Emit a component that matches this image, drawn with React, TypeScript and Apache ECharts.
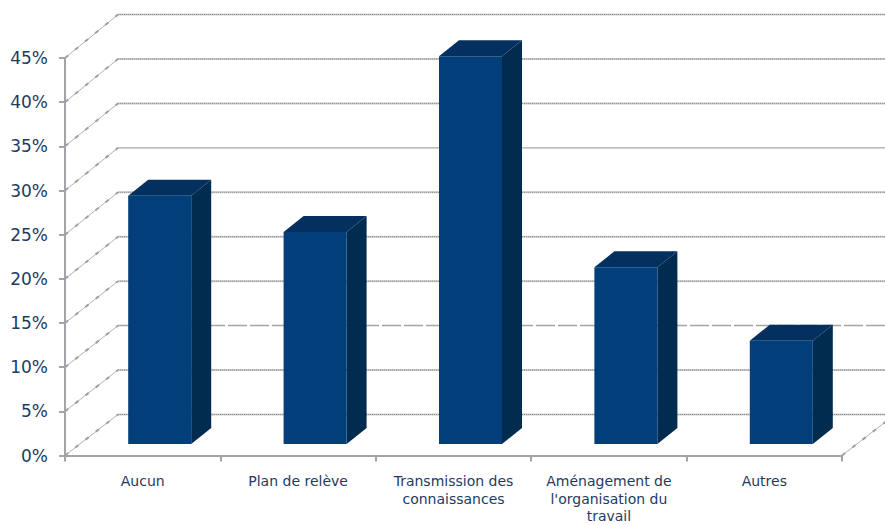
import React, { useEffect, useRef } from "react";
import * as echarts from "echarts";

const categories = [
  "Aucun",
  "Plan de relève",
  "Transmission des\nconnaissances",
  "Aménagement de\nl'organisation du\ntravail",
  "Autres",
];
const shares = [28.1, 24, 43.9, 20, 11.7];
const wallTicks = [0, 5, 10, 15, 20, 25, 30, 35, 40, 45];

const AXIS_MAX = 45;
const FONT = "'DejaVu Sans', sans-serif";
const TEXT = "#1f3a5f";
const RULE = "#a3a3a8";

// Offset of the back wall from the front plane, for a value on the vertical scale.
const wallDx = 53;
const wallDy = (v: number) => -41 - (v / AXIS_MAX) * 2.5;

function renderWallLine(params: any, api: any) {
  const v = api.value(0);
  const grid = params.coordSys;
  const y = api.coord([0, v])[1];
  const x0 = grid.x;
  const bx = x0 + wallDx;
  const by = y + wallDy(v);
  const line = { x1: bx, y1: by, x2: grid.x + grid.width + wallDx, y2: by };
  const flat =
    v === 30
      ? [{ stroke: "#a8a8ab", lineWidth: 1.4 }]
      : v === 10
        ? [{ stroke: "#a5a5a8", lineWidth: 1.5, lineDash: [19, 3] }]
        : [
            { stroke: "#c9c9cc", lineWidth: 2 },
            { stroke: "#909094", lineWidth: 1, lineDash: [1, 1] },
          ];
  const diagonal = { points: [[x0, y], [bx, by]] };
  return {
    type: "group",
    children: [
      { type: "polyline", shape: diagonal, style: { stroke: "#b4b4b8", lineWidth: 1, fill: "none" } },
      { type: "polyline", shape: diagonal, style: { stroke: "#a0a0a4", lineWidth: 2, lineDash: [4, 9], fill: "none" } },
      ...flat.map((style) => ({ type: "line", shape: line, style: { ...style, fill: "none" } })),
    ],
  };
}

// The floor's right-hand edge, running from the end of the category axis to the back wall.
function renderFloorEdge(params: any, api: any) {
  const grid = params.coordSys;
  const y = api.coord([0, 0])[1];
  const x = grid.x + grid.width;
  const shape = { points: [[x, y], [x + wallDx, y + wallDy(0)]] };
  return {
    type: "group",
    children: [
      { type: "polyline", shape, style: { stroke: "#b4b4b8", lineWidth: 1, fill: "none" } },
      { type: "polyline", shape, style: { stroke: "#a0a0a4", lineWidth: 2, lineDash: [4, 9], fill: "none" } },
    ],
  };
}

function renderBar(_params: any, api: any) {
  const idx = api.value(0);
  const [cx, baseY] = api.coord([idx, 0]);
  const topY = api.coord([idx, api.value(1)])[1];
  const halfWidth = 31.5;
  const left = cx + 17 - halfWidth;
  const right = left + 2 * halfWidth;
  const bottom = baseY - 11.5;
  const top = topY - 11.5;
  const dx = 20;
  const dy = -16;
  return {
    type: "group",
    children: [
      {
        type: "polygon",
        shape: { points: [[right, top], [right + dx, top + dy], [right + dx, bottom + dy], [right, bottom]] },
        style: { fill: "#022b50" },
      },
      {
        type: "polygon",
        shape: { points: [[left, top], [left + dx, top + dy], [right + dx, top + dy], [right, top]] },
        style: { fill: "#03305f" },
      },
      {
        type: "rect",
        shape: { x: left, y: top, width: right - left, height: bottom - top },
        style: { fill: "#023e7a" },
      },
    ],
  };
}

export default function App() {
  const ref = useRef<HTMLDivElement>(null);

  useEffect(() => {
    document.body.style.margin = "0";
    const chart = echarts.init(ref.current!, undefined, { renderer: "svg" });
    chart.setOption({
      animation: false,
      backgroundColor: "#ffffff",
      grid: { left: 65, right: 43, top: 58, bottom: 67.5, containLabel: false },
      xAxis: {
        type: "category",
        data: categories,
        boundaryGap: true,
        axisLine: { lineStyle: { color: RULE, width: 2 } },
        axisTick: { show: true, length: 6, lineStyle: { color: RULE, width: 2 } },
        axisLabel: {
          interval: 0,
          margin: 17,
          color: TEXT,
          fontFamily: FONT,
          fontSize: 14,
          lineHeight: 17.5,
          verticalAlign: "top",
        },
      },
      yAxis: {
        type: "value",
        min: 0,
        max: AXIS_MAX,
        interval: 5,
        axisLine: { show: true, lineStyle: { color: RULE, width: 2 } },
        axisTick: { show: true, length: 6, lineStyle: { color: RULE, width: 2 } },
        splitLine: { show: false },
        axisLabel: {
          formatter: "{value}%",
          margin: 17,
          color: TEXT,
          fontFamily: FONT,
          fontSize: 17,
        },
      },
      series: [
        {
          type: "custom",
          silent: true,
          z: 1,
          renderItem: renderWallLine,
          encode: { y: 0 },
          data: wallTicks.map((v) => [v]),
        },
        {
          type: "custom",
          silent: true,
          z: 1,
          renderItem: renderFloorEdge,
          data: [[0]],
        },
        {
          type: "custom",
          silent: true,
          z: 3,
          renderItem: renderBar,
          encode: { x: 0, y: 1 },
          data: shares.map((v, i) => [i, v]),
        },
      ],
    });
    return () => chart.dispose();
  }, []);

  return <div ref={ref} style={{ width: 885, height: 525 }} />;
}
